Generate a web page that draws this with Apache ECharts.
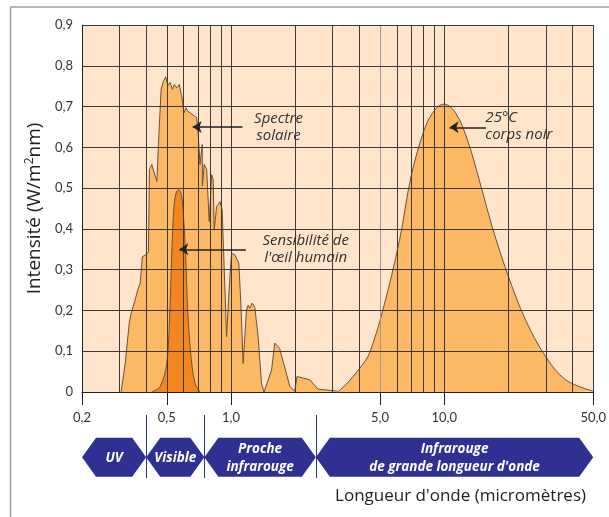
<!DOCTYPE html>
<html><head><meta charset="utf-8">
<script src="https://cdn.jsdelivr.net/npm/echarts@6/dist/echarts.min.js"></script>
<style>html,body{margin:0;padding:0;background:#fff}#c{width:609px;height:517px}</style>
</head><body><div id="c"></div>
<script>
// ---- data (wavelength in micrometres, intensity in W/m2nm) ----
const solarWavelength = [0.305,0.319,0.333,0.340,0.355,0.365,0.375,0.384,0.398,0.410,0.414,0.425,0.449,0.456,0.470,0.482,0.494,0.505,0.518,0.531,0.542,0.556,0.572,0.587,0.602,0.615,0.626,0.635,0.690,0.702,0.715,0.733,0.734,0.749,0.769,0.790,0.811,0.825,0.834,0.856,0.887,0.909,0.953,0.988,1.006,1.042,1.088,1.112,1.14,1.182,1.203,1.225,1.256,1.293,1.34,1.39,1.429,1.55,1.604,1.69,1.89,1.99,2.04,2.18,2.34,2.56,3.16];
const solarIntensity = [0,0.07,0.168,0.193,0.226,0.25,0.267,0.332,0.336,0.344,0.545,0.558,0.516,0.601,0.742,0.762,0.773,0.752,0.759,0.742,0.754,0.746,0.754,0.726,0.685,0.697,0.689,0.685,0.673,0.632,0.558,0.607,0.505,0.558,0.545,0.418,0.533,0.521,0.398,0.455,0.467,0.447,0.136,0.283,0.34,0.336,0.316,0.218,0.07,0.201,0.213,0.205,0.218,0.208,0.136,0.021,0,0.054,0.12,0.107,0.013,0.002,0.038,0.034,0.03,0.007,0.002];
const eyeWavelength = [0.425,0.465,0.500,0.518,0.531,0.542,0.556,0.570,0.587,0.600,0.613,0.626,0.649,0.678,0.715];
const eyeSensitivity = [0,0.013,0.07,0.218,0.381,0.463,0.492,0.496,0.48,0.423,0.332,0.201,0.087,0.021,0];
const bodyWavelength = [3.17,3.6,4.12,4.46,5.15,6.17,6.99,8.15,9.15,10.0,11.35,12.86,14.6,16.8,19.8,24.1,29.9,37.1,49.8];
const bodyIntensity = [0,0.028,0.066,0.095,0.2,0.372,0.528,0.65,0.695,0.706,0.683,0.618,0.52,0.405,0.29,0.176,0.087,0.03,0.002];

const xTickValues = [0.2,0.5,1,5,10,50];
const xGridValues = [0.3,0.4,0.5,0.6,0.7,0.8,0.9,1,2,3,4,5,6,7,8,9,10,20,30,40,50];
const yGridValues = [0.1,0.2,0.3,0.4,0.5,0.6,0.7,0.8,0.9];
const bandNames = ['UV','Visible','Proche\ninfrarouge','Infrarouge\nde grande longueur d\'onde'];
const bandEdges = [0.2,0.4,0.75,2.5,50];
const annotationTexts = ['Spectre\nsolaire','Sensibilité de\nl\'œil humain','25°C\ncorps noir'];
const annotationAnchor = [[1.67,0.649],[2.24,0.351],[15.6,0.651]];
const arrowFrom = [[1.132,0.65],[1.174,0.35],[15.7,0.649]];
const arrowTo = [[0.661,0.65],[0.572,0.35],[10.6,0.649]];

// ---- styles ----
const FONT = 'Lato', FONT2 = '"Open Sans"';
const C_BG = '#FDE4CA', C_LIGHT = '#FDB863', C_DARK = '#F3861F', C_EDGE = '#6b5236';
const C_GRID = '#3a3a3a', C_NAVY = '#2e3191';

const zip = (a,b) => a.map((v,i)=>[v,b[i]]);
const fmt = v => v === 0 ? '0' : v.toFixed(1).replace('.', ',');

const option = {
  animation: false,
  grid: {left: 82, right: 14, top: 25, bottom: 125, show: true, backgroundColor: C_BG, borderWidth: 0},
  xAxis: {
    type: 'log', logBase: 10, min: 0.2, max: 50,
    axisLine: {show: true, lineStyle: {color: '#222', width: 1}},
    axisTick: {show: true, length: 13, customValues: xTickValues, lineStyle: {color: '#222'}},
    axisLabel: {customValues: xTickValues, formatter: v => fmt(v), margin: 19, fontFamily: FONT, fontSize: 13, color: '#333',
                showMinLabel: true, showMaxLabel: true},
    splitLine: {show: false}, minorTick: {show: false}
  },
  yAxis: {
    type: 'value', min: 0, max: 0.9, interval: 0.1,
    axisLine: {show: true, lineStyle: {color: '#222', width: 1}},
    axisTick: {show: false},
    axisLabel: {formatter: v => fmt(v), margin: 9, fontFamily: FONT, fontSize: 13, color: '#333'},
    splitLine: {show: false},
    name: 'Intensité (W/m{sup|2}nm)', nameLocation: 'middle', nameRotate: 90, nameGap: 32,
    nameTextStyle: {fontFamily: 'Open Sans', fontSize: 19, color: '#222',
      rich: {sup: {fontFamily: 'Open Sans', fontSize: 12, color: '#222', padding: [0,0,9,0]}}}
  },
  series: [
    {type: 'line', name: 'corps noir', data: zip(bodyWavelength, bodyIntensity), smooth: 0.35, symbol: 'none',
     lineStyle: {color: C_EDGE, width: 1}, areaStyle: {color: C_LIGHT, opacity: 1}, z: 2},
    {type: 'line', name: 'spectre solaire', data: zip(solarWavelength, solarIntensity), symbol: 'none',
     lineStyle: {color: C_EDGE, width: 1}, areaStyle: {color: C_LIGHT, opacity: 1}, z: 2},
    {type: 'line', name: 'oeil', data: zip(eyeWavelength, eyeSensitivity), smooth: 0.3, symbol: 'none',
     lineStyle: {color: C_EDGE, width: 1}, areaStyle: {color: C_DARK, opacity: 1}, z: 3},
    {type: 'line', name: 'grille', data: [], z: 4, silent: true,
     markLine: {silent: true, symbol: 'none', animation: false, label: {show: false},
       lineStyle: {color: C_GRID, width: 1, type: 'solid'},
       data: xGridValues.map(v => v === 5 ? {xAxis: v, lineStyle: {color: '#9a9a9a', width: 1, type: 'solid'}} : {xAxis: v})
         .concat(yGridValues.map(v => ({yAxis: v})))}},
    {type: 'line', name: 'fleches', data: [], z: 6, silent: true,
     markLine: {silent: true, animation: false, label: {show: false}, symbolSize: 9,
       lineStyle: {color: '#222', width: 1.5, type: 'solid'},
       data: arrowFrom.map((f,i) => [{coord: f, symbol: 'none'}, {coord: arrowTo[i], symbol: 'arrow'}])}}
  ]
};

const chart = echarts.init(document.getElementById('c'), null, {renderer: 'canvas'});
chart.setOption(option);

const px = v => chart.convertToPixel({xAxisIndex: 0}, v);
const pp = p => chart.convertToPixel({xAxisIndex: 0, yAxisIndex: 0}, p);
const yTop = 437.7, yBot = 476.7, yMid = (yTop + yBot) / 2, tip = 14;
const g = [];
// frame
g.push({type: 'line', shape: {x1: 10, y1: 7, x2: 609, y2: 7}, style: {stroke: '#a0a0a0', lineWidth: 1.5}, silent: true});
g.push({type: 'line', shape: {x1: 10.5, y1: 7, x2: 10.5, y2: 517}, style: {stroke: '#a0a0a0', lineWidth: 1.5}, silent: true});
// bands
bandNames.forEach((name, i) => {
  const x0 = px(bandEdges[i]), x1 = px(bandEdges[i + 1]);
  g.push({type: 'polygon', silent: true, shape: {points: [[x0, yMid], [x0 + tip, yTop], [x1 - tip, yTop], [x1, yMid], [x1 - tip, yBot], [x0 + tip, yBot]]},
          style: {fill: C_NAVY}});
  g.push({type: 'text', silent: true, x: (x0 + x1) / 2, y: yMid + 0.5,
          style: {text: name, align: 'center', verticalAlign: 'middle', fill: '#fff', font: 'italic bold 13.5px ' + FONT2, lineHeight: 18}});
});
bandEdges.slice(1, -1).forEach(e => {
  const x = Math.round(px(e)) + 0.5;
  g.push({type: 'line', silent: true, shape: {x1: x, y1: 415, x2: x, y2: 478}, style: {stroke: C_NAVY, lineWidth: 1}});
});
// annotations
annotationTexts.forEach((t, i) => {
  const p = pp(annotationAnchor[i]);
  g.push({type: 'text', silent: true, x: p[0], y: p[1],
          style: {text: t, align: i === 2 ? 'left' : 'center', verticalAlign: 'middle', fill: '#333', font: 'italic 15px ' + FONT2, lineHeight: 17}});
});
// x axis title
g.push({type: 'text', silent: true, x: 586, y: 496,
        style: {text: 'Longueur d\'onde (micromètres)', align: 'right', verticalAlign: 'middle', fill: '#222', font: '17px ' + FONT2}});
chart.setOption({graphic: g});
</script></body></html>
